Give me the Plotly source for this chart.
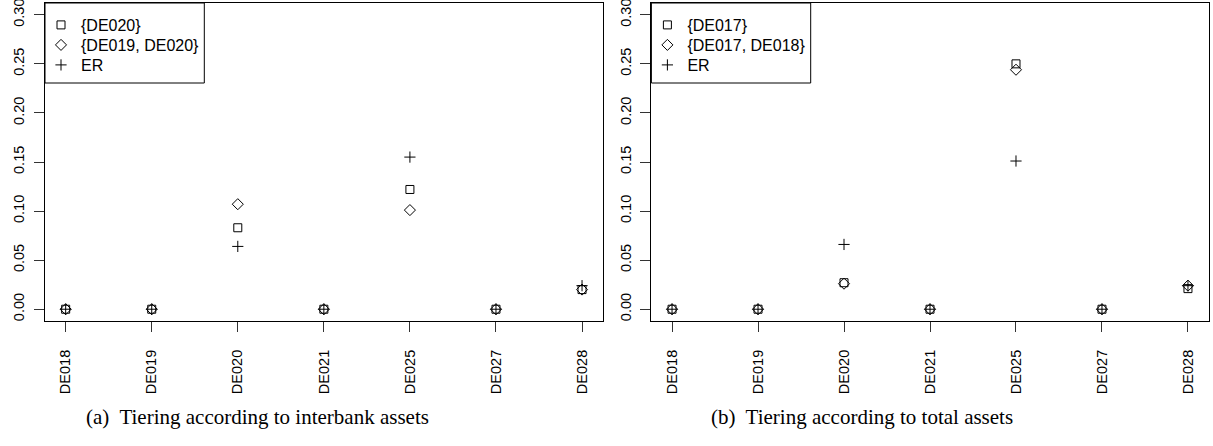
import plotly.graph_objects as go

W, H = 1213, 446

banks = ["DE018", "DE019", "DE020", "DE021", "DE025", "DE027", "DE028"]
positions = [1, 2, 3, 4, 5, 6, 7]

# (a) tiering according to interbank assets
a_de020 = [0.0, 0.0, 0.083, 0.0, 0.122, 0.0, 0.020]
a_de019_de020 = [0.0, 0.0, 0.107, 0.0, 0.101, 0.0, 0.020]
a_er = [0.0, 0.0, 0.064, 0.0, 0.155, 0.0, 0.024]

# (b) tiering according to total assets
b_de017 = [0.0, 0.0, 0.027, 0.0, 0.250, 0.0, 0.021]
b_de017_de018 = [0.0, 0.0, 0.026, 0.0, 0.244, 0.0, 0.024]
b_er = [0.0, 0.0, 0.066, 0.0, 0.151, 0.0, 0.024]

y_ticks = [0.0, 0.05, 0.10, 0.15, 0.20, 0.25, 0.30]
y_tick_text = ["0.00", "0.05", "0.10", "0.15", "0.20", "0.25", "0.30"]

captions = ["(a)\u00a0 Tiering according to interbank assets",
            "(b)\u00a0 Tiering according to total assets"]


def px_x(p):
    return p / W


def px_y(p):
    return 1 - p / H


SANS = "Liberation Sans, Arial, Helvetica, sans-serif"
SERIF = "Liberation Serif, Times New Roman, serif"

fig = go.Figure()

panels = [
    ("x", "y", [("{DE020}", a_de020), ("{DE019, DE020}", a_de019_de020), ("ER", a_er)]),
    ("x2", "y2", [("{DE017}", b_de017), ("{DE017, DE018}", b_de017_de018), ("ER", b_er)]),
]
symbols = [("square-open", 8), ("diamond-open", 8.5), ("cross-thin-open", 8)]

plot_top, plot_bottom = 3, 321
domains_x = [(45, 602.7), (651.4, 1208.6)]
legend_rows = [25, 45, 65]

layout = dict(
    width=W, height=H,
    margin=dict(l=0, r=0, t=0, b=0, pad=0, autoexpand=False),
    paper_bgcolor="white", plot_bgcolor="white",
    showlegend=True,
    font=dict(family=SANS, size=14.5, color="black"),
)

# one single-entry legend per row so the rows sit on a fixed pitch
legend_no = 0
for (xa, ya, series), (x0, _) in zip(panels, domains_x):
    for (name, vals), (sym, size), row_y in zip(series, symbols, legend_rows):
        legend_no += 1
        lg = "legend" if legend_no == 1 else f"legend{legend_no}"
        fig.add_trace(go.Scatter(
            x=positions, y=vals, name=name, mode="markers",
            xaxis=xa, yaxis=ya, legend=lg,
            marker=dict(symbol=sym, size=size, color="black",
                        line=dict(color="black", width=1)),
        ))
        layout[lg] = dict(
            x=px_x(x0 - 4), y=px_y(row_y), xanchor="left", yanchor="middle",
            bgcolor="rgba(0,0,0,0)", borderwidth=0,
            font=dict(family=SANS, size=16, color="black"),
            itemwidth=30,
        )

axis_common = dict(
    showline=True, mirror=True, linecolor="black", linewidth=1,
    ticks="outside", ticklen=10, tickcolor="#333", tickwidth=1,
    showgrid=False, zeroline=False, ticklabeloverflow="allow",
    automargin=False,
    tickfont=dict(family=SANS, size=14.5, color="black"),
)

for i, (x0, x1) in enumerate(domains_x):
    sfx = "" if i == 0 else str(i + 1)
    layout["xaxis" + sfx] = dict(
        axis_common, domain=[px_x(x0), px_x(x1)], range=[0.76, 7.24],
        tickvals=positions, ticktext=banks, tickangle=-90,
        ticklabelstandoff=12, anchor="y" + sfx,
    )
    layout["yaxis" + sfx] = dict(
        axis_common, domain=[px_y(plot_bottom), px_y(plot_top)],
        range=[-0.012, 0.312], tickvals=y_ticks, ticktext=y_tick_text,
        tickangle=-90, ticklabelstandoff=4, anchor="x" + sfx,
    )

fig.update_layout(**layout)

# legend frames
for x0, _ in domains_x:
    fig.add_shape(type="rect", xref="paper", yref="paper",
                  x0=px_x(x0), x1=px_x(x0 + 159.3),
                  y0=px_y(83), y1=px_y(plot_top),
                  line=dict(color="black", width=1), fillcolor="rgba(0,0,0,0)")

# sub-captions
for cx, text in zip([257.5, 862], captions):
    fig.add_annotation(
        x=px_x(cx), y=px_y(417), xref="paper", yref="paper",
        text=text, showarrow=False, xanchor="center", yanchor="middle",
        font=dict(family=SERIF, size=21, color="black"),
    )

fig.write_html("out.html")
